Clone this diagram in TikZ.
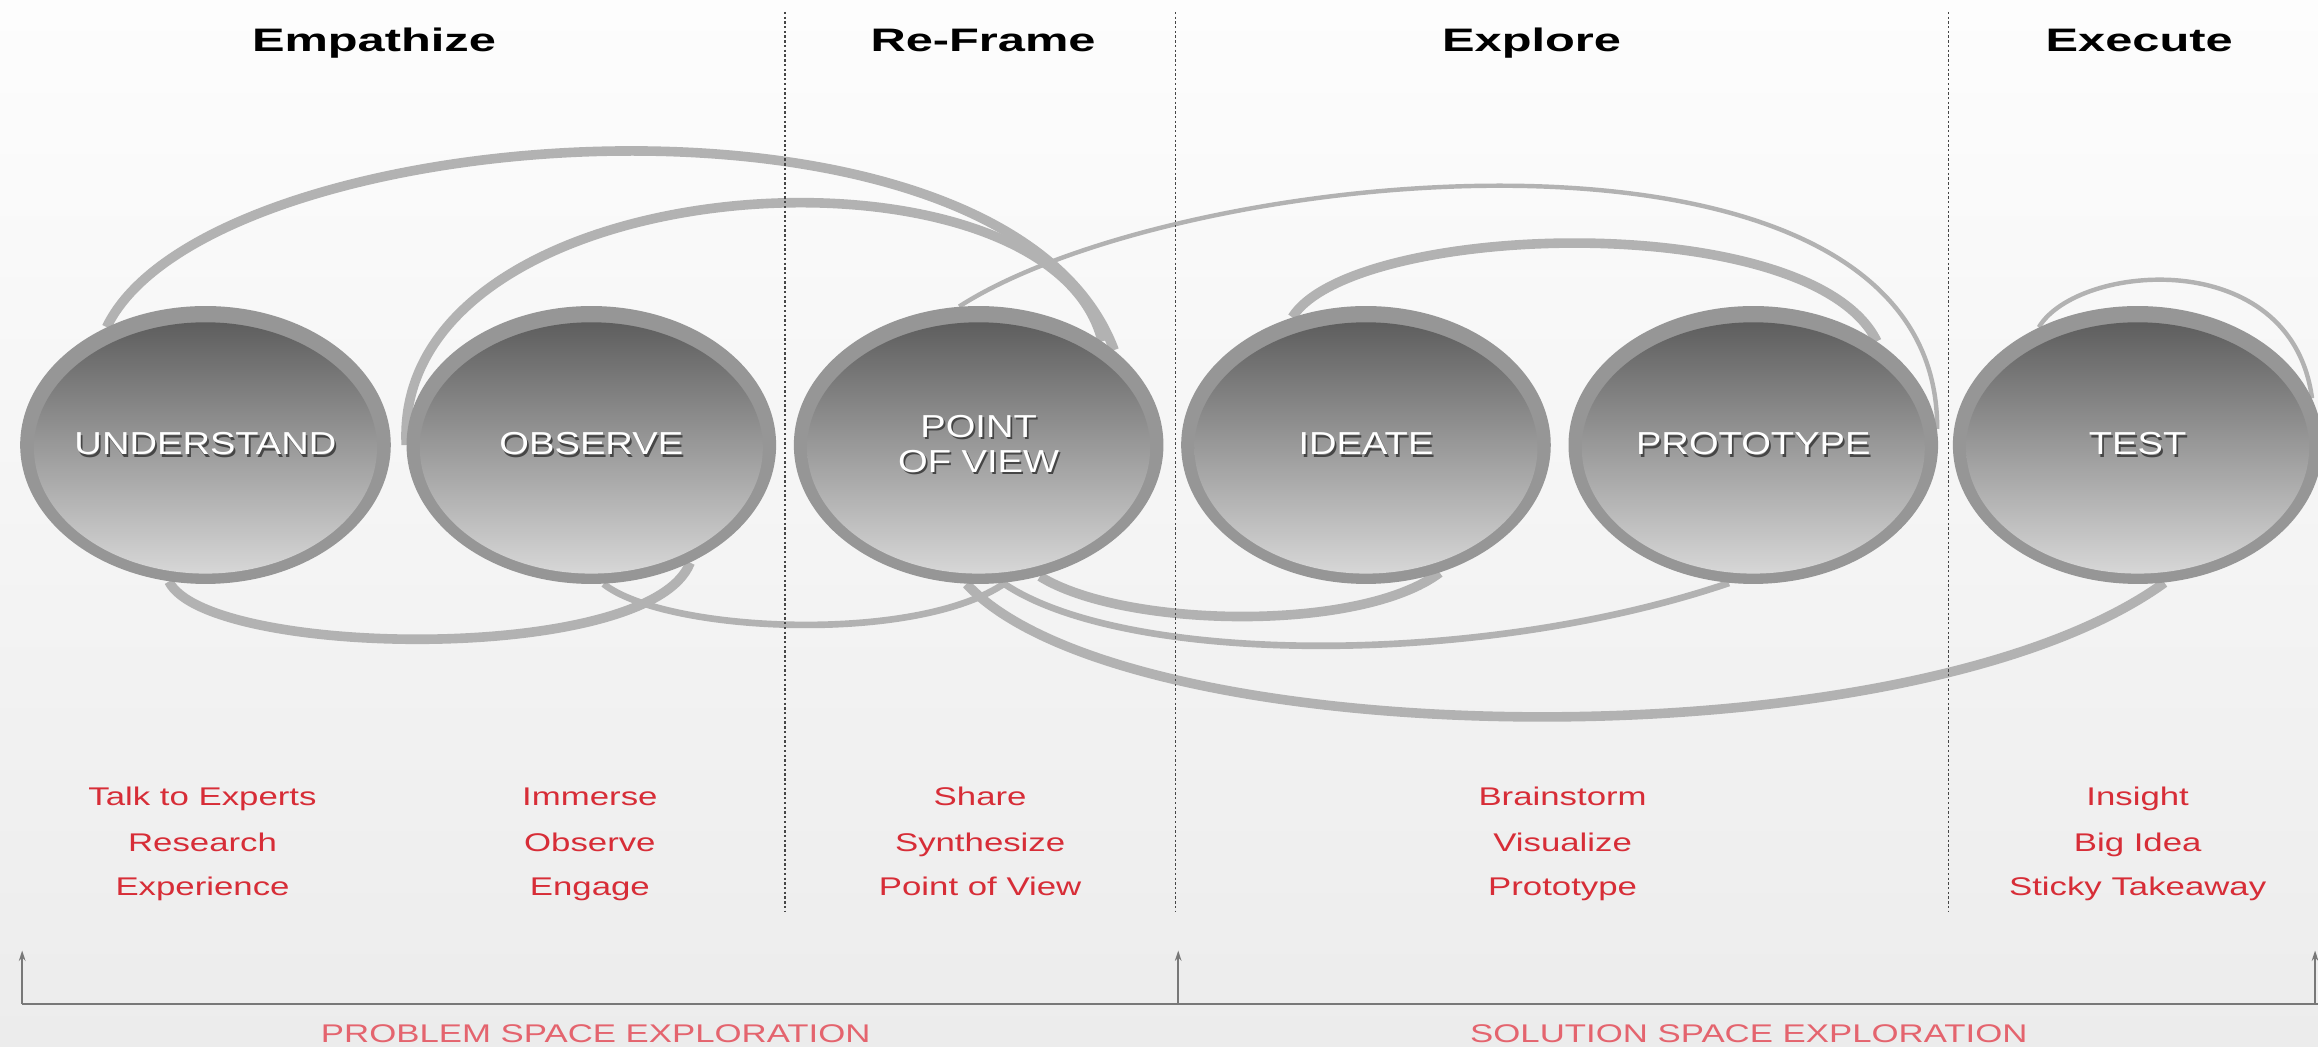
\documentclass[tikz,border=0pt]{standalone}
\usepackage{fontspec}
\newfontfamily\hdrfont[FakeStretch=1.5]{Liberation Sans}
\newfontfamily\lblfont[FakeStretch=1.2]{Liberation Sans}
\newfontfamily\redfont[FakeStretch=1.36]{Liberation Sans}
\usetikzlibrary{shapes.geometric,arrows.meta}
\pgfdeclarelayer{bgl}
\pgfdeclarelayer{loops}
\pgfsetlayers{bgl,loops,main}
\definecolor{ringc}{RGB}{150,150,150}
\definecolor{topc}{RGB}{86,86,86}
\definecolor{midc}{RGB}{138,138,138}
\definecolor{botc}{RGB}{220,220,220}
\definecolor{loopc}{RGB}{178,178,178}
\definecolor{redt}{RGB}{215,45,55}
\definecolor{redb}{RGB}{228,100,110}
\definecolor{dotc}{RGB}{70,70,70}
\definecolor{axc}{RGB}{120,120,120}
\definecolor{bgtop}{RGB}{253,253,253}
\definecolor{bgbot}{RGB}{236,236,236}
\definecolor{shadowc}{RGB}{70,70,70}
\newcommand{\shd}[1]{\leavevmode\rlap{\kern1.2pt\raisebox{-1.6pt}{\textcolor{shadowc}{#1}}}#1}
\tikzset{
  disc/.style={ellipse, minimum width=250pt, minimum height=188pt, inner sep=0pt,
    fill=ringc, text=white, align=center,
    font=\lblfont\fontsize{21.5}{26}\selectfont,
    path picture={\shade[top color=topc, middle color=midc, bottom color=botc]
      ([yshift=-2pt]path picture bounding box.center) ellipse [x radius=116pt, y radius=85pt];}},
  hdr/.style={anchor=base, inner sep=0pt, font=\hdrfont\bfseries\fontsize{22}{26}\selectfont, text={RGB:black,1;white,0}},
  redtxt/.style={anchor=base, inner sep=0pt, text=redt, font=\redfont\fontsize{17.3}{20}\selectfont},
  bottxt/.style={anchor=base, inner sep=0pt, text=redb, font=\redfont\fontsize{17.3}{20}\selectfont},
  loopthick/.style={draw=loopc, line width=6.5pt},
  loopmed/.style={draw=loopc, line width=4.5pt},
  loopthin/.style={draw=loopc, line width=3pt},
  divider/.style={draw=dotc, line width=1pt, dash pattern=on 1.6pt off 1.6pt},
  axisline/.style={draw=axc, line width=1.4pt},
  uparrow/.style={draw=axc, line width=1.2pt, -{Stealth[length=7pt,width=4.5pt]}}
}
\begin{document}
\begin{tikzpicture}[x=1pt,y=-1pt]
\useasboundingbox (0,0) rectangle (1568,707.6);
\begin{pgfonlayer}{bgl}
  \shade[top color=bgtop, bottom color=bgbot] (0,0) rectangle (1568,707.6);
\end{pgfonlayer}

% headers
\node[hdr] (h1) at (253,35) {Empathize};
\node[hdr] (h2) at (665,35) {Re-Frame};
\node[hdr] (h3) at (1036,35) {Explore};
\node[hdr] (h4) at (1447,35) {Execute};

% dividers
\draw[divider] (531,8) -- (531,617);
\draw[divider] (795,8) -- (795,617);
\draw[divider] (1318,8) -- (1318,617);

% discs
\node[disc] (u)  at (139,301)  {\shd{UNDERSTAND}};
\node[disc] (o)  at (400,301)  {\shd{OBSERVE}};
\node[disc] (p)  at (662,301)  {\shd{POINT}\\[-2pt]\shd{OF VIEW}};
\node[disc] (i)  at (924,301)  {\shd{IDEATE}};
\node[disc] (pr) at (1186,301) {\shd{PROTOTYPE}};
\node[disc] (t)  at (1446,301) {\shd{TEST}};

% loops (behind discs)
\begin{pgfonlayer}{loops}
  \draw[loopthick] (u.130) .. controls (140,80) and (680,40) .. (p.35);
  \draw[loopthick] (o.180) .. controls (265,110) and (710,85) .. (p.40);
  \draw[loopthin]  (p.98) .. controls (800,110) and (1312,60) .. (pr.5);
  \draw[loopthick] (i.120) .. controls (915,150) and (1225,140) .. (pr.40);
  \draw[loopthin]  (t.130) .. controls (1405,178) and (1550,165) .. (t.15);
  \draw[loopthick] (u.-105) .. controls (140,445) and (440,450) .. (o.-50);
  \draw[loopmed]   (o.-85) .. controls (450,428) and (620,436) .. (p.-79);
  \draw[loopthick] (p.-65) .. controls (760,425) and (920,428) .. (i.-60);
  \draw[loopmed]   (p.-80) .. controls (760,450) and (1000,452) .. (pr.-100);
  \draw[loopthick] (p.-95) .. controls (760,510) and (1290,520) .. (t.-79);
\end{pgfonlayer}

% red activity lists
\node[redtxt] (a1) at (137,545) {Talk to Experts};
\node[redtxt] (a2) at (137,576) {Research};
\node[redtxt] (a3) at (137,606) {Experience};
\node[redtxt] (b1) at (399,545) {Immerse};
\node[redtxt] (b2) at (399,576) {Observe};
\node[redtxt] (b3) at (399,606) {Engage};
\node[redtxt] (c1) at (663,545) {Share};
\node[redtxt] (c2) at (663,576) {Synthesize};
\node[redtxt] (c3) at (663,606) {Point of View};
\node[redtxt] (d1) at (1057,545) {Brainstorm};
\node[redtxt] (d2) at (1057,576) {Visualize};
\node[redtxt] (d3) at (1057,606) {Prototype};
\node[redtxt] (e1) at (1446,545) {Insight};
\node[redtxt] (e2) at (1446,576) {Big Idea};
\node[redtxt] (e3) at (1446,606) {Sticky Takeaway};

% bottom axis
\coordinate (x0) at (15,679);
\coordinate (x1) at (797,679);
\coordinate (x2) at (1566,679);
\coordinate (xe) at (1572,679);
\coordinate (y0) at (15,643);
\coordinate (y1) at (797,643);
\coordinate (y2) at (1566,643);
\draw[axisline] (x0) -- (xe);
\draw[uparrow] (x0) -- (y0);
\draw[uparrow] (x1) -- (y1);
\draw[uparrow] (x2) -- (y2);
\node[bottxt] (s1) at (403,705) {PROBLEM SPACE EXPLORATION};
\node[bottxt] (s2) at (1183,705) {SOLUTION SPACE EXPLORATION};
\end{tikzpicture}
\end{document}
